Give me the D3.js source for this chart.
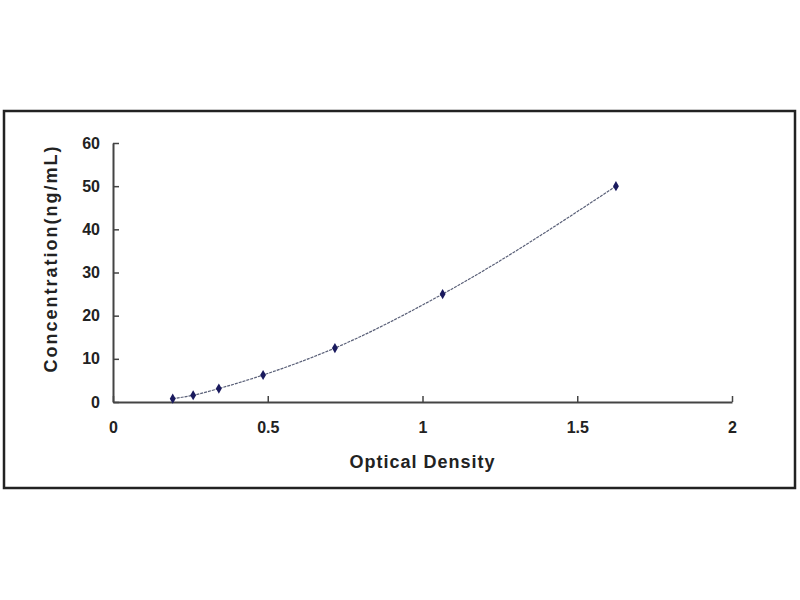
<!DOCTYPE html>
<html>
<head>
<meta charset="utf-8">
<script src="https://cdn.jsdelivr.net/npm/d3@7"></script>
<style>
  body { margin: 0; background: #fff; }
  .tick text { font-family: "Liberation Sans", Arial, sans-serif; font-weight: bold; font-size: 16px; fill: #222; }
  .axisText { font-family: "Liberation Sans", Arial, sans-serif; font-weight: bold; font-size: 18px; fill: #222; }
</style>
</head>
<body>
<div id="chart"></div>
<script>
var density = [0.193, 0.259, 0.342, 0.485, 0.717, 1.065, 1.625];
var concentration = [0.78, 1.56, 3.12, 6.25, 12.5, 25, 50];
var xTicks = [0, 0.5, 1, 1.5, 2];
var yTicks = [0, 10, 20, 30, 40, 50, 60];

var svgWidth = 800;
var svgHeight = 600;

var margin = { top: 143, right: 68, bottom: 198, left: 113 };
var width = svgWidth - margin.left - margin.right;
var height = svgHeight - margin.top - margin.bottom;

var svg = d3.select("#chart")
    .append("svg")
    .attr("width", svgWidth)
    .attr("height", svgHeight);

// outer frame
svg.append("rect")
    .attr("x", 4)
    .attr("y", 111)
    .attr("width", 791)
    .attr("height", 377)
    .attr("fill", "#fff")
    .attr("stroke", "#222")
    .attr("stroke-width", 2.5);

var chartGroup = svg.append("g")
    .attr("transform", `translate(${margin.left}, ${margin.top})`);

var points = density.map((d, i) => ({ x: d, y: concentration[i] }));

var xScale = d3.scaleLinear().domain([0, 2]).range([0, width]);
var yScale = d3.scaleLinear().domain([0, 60]).range([height, 0]);

var bottomAxis = d3.axisBottom(xScale)
    .tickValues(xTicks)
    .tickFormat(d3.format("~g"))
    .tickSizeInner(-6)
    .tickSizeOuter(0)
    .tickPadding(20);

var leftAxis = d3.axisLeft(yScale)
    .tickValues(yTicks)
    .tickSizeInner(-6)
    .tickSizeOuter(0)
    .tickPadding(13);

var gx = chartGroup.append("g")
    .attr("transform", `translate(0, ${height})`)
    .call(bottomAxis);

var gy = chartGroup.append("g")
    .call(leftAxis);

[gx, gy].forEach(g => {
    g.select(".domain").attr("stroke", "#444").attr("stroke-width", 2);
    g.selectAll(".tick line").attr("stroke", "#444").attr("stroke-width", 1.5);
});

// fitted curve
var line = d3.line()
    .x(d => xScale(d.x))
    .y(d => yScale(d.y))
    .curve(d3.curveMonotoneX);

chartGroup.append("path")
    .datum(points)
    .attr("d", line)
    .attr("fill", "none")
    .attr("stroke", "#5a6078")
    .attr("stroke-width", 1.2)
    .attr("stroke-dasharray", "3,1");

// markers
chartGroup.selectAll(".marker")
    .data(points)
    .enter()
    .append("path")
    .attr("class", "marker")
    .attr("d", d3.symbol().type(d3.symbolDiamond).size(30))
    .attr("transform", d => `translate(${xScale(d.x)}, ${yScale(d.y)})`)
    .attr("fill", "#1a1a5e");

// axis labels
chartGroup.append("text")
    .attr("class", "axisText")
    .attr("text-anchor", "middle")
    .attr("letter-spacing", "2px")
    .attr("transform", `translate(${-56}, ${height / 2 - 14}) rotate(-90)`)
    .text("Concentration(ng/mL)");

chartGroup.append("text")
    .attr("class", "axisText")
    .attr("text-anchor", "middle")
    .attr("letter-spacing", "1px")
    .attr("x", width / 2)
    .attr("y", height + 66)
    .text("Optical Density");
</script>
</body>
</html>
